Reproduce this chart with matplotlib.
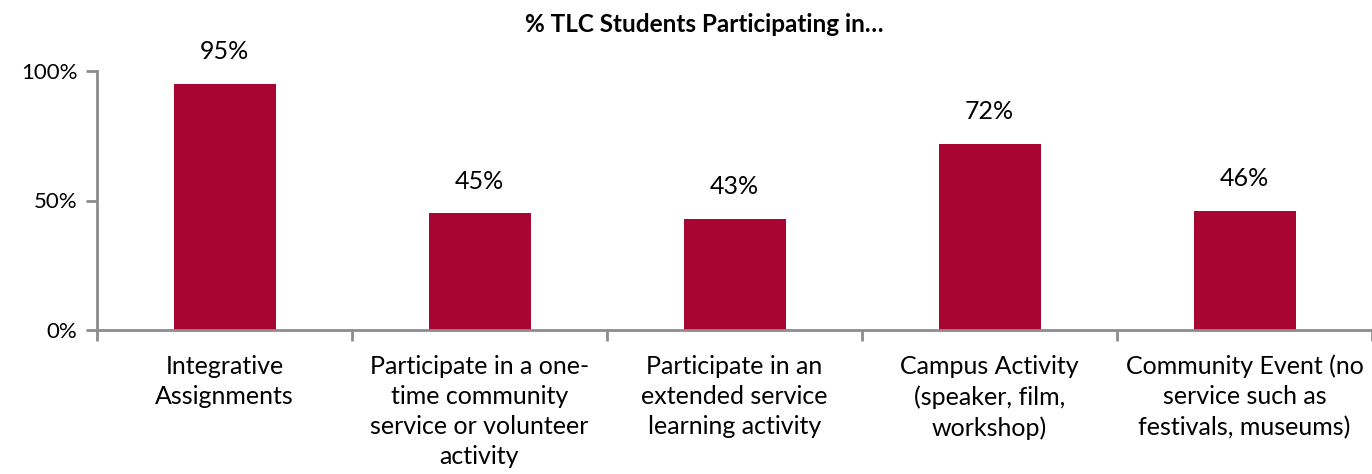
import matplotlib.pyplot as plt

# Data
categories = [
    "Integrative\nAssignments",
    "Participate in a one-\ntime community\nservice or volunteer\nactivity",
    "Participate in an\nextended service\nlearning activity",
    "Campus Activity\n(speaker, film,\nworkshop)",
    "Community Event (no\nservice such as\nfestivals, museums)",
]
values = [95, 45, 43, 72, 46]
y_ticks = [0, 50, 100]

plt.rcParams['font.family'] = ['Lato', 'DejaVu Sans']

fig = plt.figure(figsize=(13.72, 4.74), dpi=100)
ax = fig.add_axes([97 / 1372, 1 - 330 / 474, 1 - 97 / 1372, (330 - 71) / 474])

x = range(len(values))
ax.bar(x, values, width=0.40, color="#A80533")

for i, v in enumerate(values):
    ax.text(i, v + 8, f"{v}%", ha="center", va="bottom", fontsize=18)

ax.set_xlim(-0.5, len(values) - 0.5)
ax.set_ylim(0, 100)
ax.set_yticks(y_ticks)
ax.set_yticklabels([f"{t}%" for t in y_ticks], fontsize=16)

# category labels between boundary ticks
ax.set_xticks([i - 0.5 for i in range(len(values) + 1)])
ax.set_xticklabels([])
ax.tick_params(axis="x", length=8, width=2, color="#8C8C8C", direction="out")
ax.tick_params(axis="y", length=8, width=2, color="#8C8C8C", pad=6)
for i, c in enumerate(categories):
    ax.text(i, -9.5, c, ha="center", va="top", fontsize=18, linespacing=1.38)

for s in ["top", "right"]:
    ax.spines[s].set_visible(False)
for s in ["left", "bottom"]:
    ax.spines[s].set_color("#8C8C8C")
    ax.spines[s].set_linewidth(2)

fig.text(704 / 1372, 1 - 24 / 474, "% TLC Students Participating in…",
         ha="center", va="center", fontsize=17.5, fontweight="bold")

fig.savefig("out.png", dpi=100)
